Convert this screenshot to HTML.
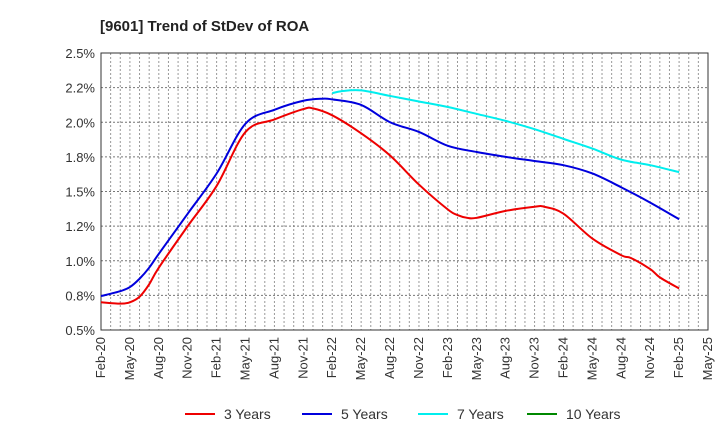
<!DOCTYPE html>
<html><head><meta charset="utf-8"><style>
body{margin:0;background:#fff;font-family:"Liberation Sans",sans-serif}
svg{display:block}
</style></head><body>
<svg id="c" width="720" height="440" xmlns="http://www.w3.org/2000/svg">
<text x="100" y="31" font-size="15" font-weight="bold" fill="#222">[9601]  Trend of StDev of ROA</text>
<g id="grid"></g><g id="axes"></g><g id="series"></g><g id="legend"></g>
</svg>
<script>
const yTicks=[0.5,0.75,1.0,1.25,1.5,1.75,2.0,2.25,2.5];
const yTickLabels=["0.5%","0.8%","1.0%","1.2%","1.5%","1.8%","2.0%","2.2%","2.5%"];
const xTickLabels=["Feb-20","May-20","Aug-20","Nov-20","Feb-21","May-21","Aug-21","Nov-21","Feb-22","May-22","Aug-22","Nov-22","Feb-23","May-23","Aug-23","Nov-23","Feb-24","May-24","Aug-24","Nov-24","Feb-25","May-25"];
// month index from Feb-20
const m3=[0,2,3,4,5,6,9,12,15,18,21,22,24,27,30,33,36,37,38,39,42,45,46,48,51,54,55,57,58,60];
const v3=[0.70,0.69,0.70,0.74,0.83,0.95,1.25,1.54,1.93,2.02,2.095,2.10,2.05,1.92,1.76,1.55,1.37,1.33,1.31,1.31,1.36,1.39,1.39,1.34,1.16,1.04,1.02,0.94,0.88,0.80];
const m5=[0,2,3,4,5,6,9,12,15,18,21,23,24,27,30,33,36,39,42,45,48,51,54,57,60];
const v5=[0.745,0.78,0.81,0.87,0.95,1.05,1.34,1.63,1.99,2.09,2.155,2.17,2.165,2.125,2.0,1.93,1.83,1.785,1.75,1.72,1.69,1.63,1.53,1.42,1.30];
const m7=[24,25,27,30,33,36,39,42,45,48,51,54,57,60];
const v7=[2.21,2.225,2.23,2.19,2.15,2.11,2.06,2.01,1.95,1.88,1.81,1.73,1.69,1.64];
const L=101,R=708,T=53,B=330,NM=63;
const X=m=>L+m*(R-L)/NM, Y=v=>B-(v-0.5)/2*(B-T);
const NS="http://www.w3.org/2000/svg";
function mk(tag,parent,attrs){const e=document.createElementNS(NS,tag);for(const k in attrs)e.setAttribute(k,attrs[k]);document.getElementById(parent).appendChild(e);return e;}
for(let m=1;m<NM;m++){const e=mk("line","grid",{x1:X(m),x2:X(m),y1:T,y2:B,stroke:"#999","stroke-width":1,"stroke-dasharray":"2,2"});

}
yTicks.forEach((v,i)=>{if(i>0&&i<yTicks.length-1){const g=mk("line","grid",{x1:L,x2:R,y1:Y(v),y2:Y(v),stroke:"#777","stroke-width":1,"stroke-dasharray":"2,2"});

}
const t=mk("text","axes",{x:L-6,y:Y(v)+5,"text-anchor":"end","font-size":"13",fill:"#333"});t.textContent=yTickLabels[i];

});
xTickLabels.forEach((s,i)=>{const x=X(i*3);const t=mk("text","axes",{x:0,y:0,transform:`translate(${x+4},${B+7}) rotate(-90)`,"text-anchor":"end","font-size":"13",fill:"#333"});t.textContent=s;

});
const fr=mk("rect","axes",{x:L,y:T,width:R-L,height:B-T,fill:"none",stroke:"#333","stroke-width":1});


function path(ms,vs){const p=ms.map((m,i)=>[X(m),Y(vs[i])]);let d="M"+p[0][0]+","+p[0][1];
for(let i=0;i<p.length-1;i++){const p0=p[i-1]||p[i],p1=p[i],p2=p[i+1],p3=p[i+2]||p2;
d+=` C${p1[0]+(p2[0]-p0[0])/6},${p1[1]+(p2[1]-p0[1])/6} ${p2[0]-(p3[0]-p1[0])/6},${p2[1]-(p3[1]-p1[1])/6} ${p2[0]},${p2[1]}`;}return d;}
[[m3,v3,"#ee0000","series-3-years"],[m5,v5,"#0000dd","series-5-years"],[m7,v7,"#00eeee","series-7-years"]].forEach(s=>{
const e=mk("path","series",{d:path(s[0],s[1]),fill:"none",stroke:s[2],"stroke-width":2});

});
[["3 Years","#ee0000",185],["5 Years","#0000dd",302],["7 Years","#00eeee",418],["10 Years","#008800",527]].forEach(l=>{
const ln=mk("line","legend",{x1:l[2],x2:l[2]+30,y1:414,y2:414,stroke:l[1],"stroke-width":2});


const t=mk("text","legend",{x:l[2]+39,y:419,"font-size":"14",fill:"#333"});t.textContent=l[0];

});
</script>
</body></html>
